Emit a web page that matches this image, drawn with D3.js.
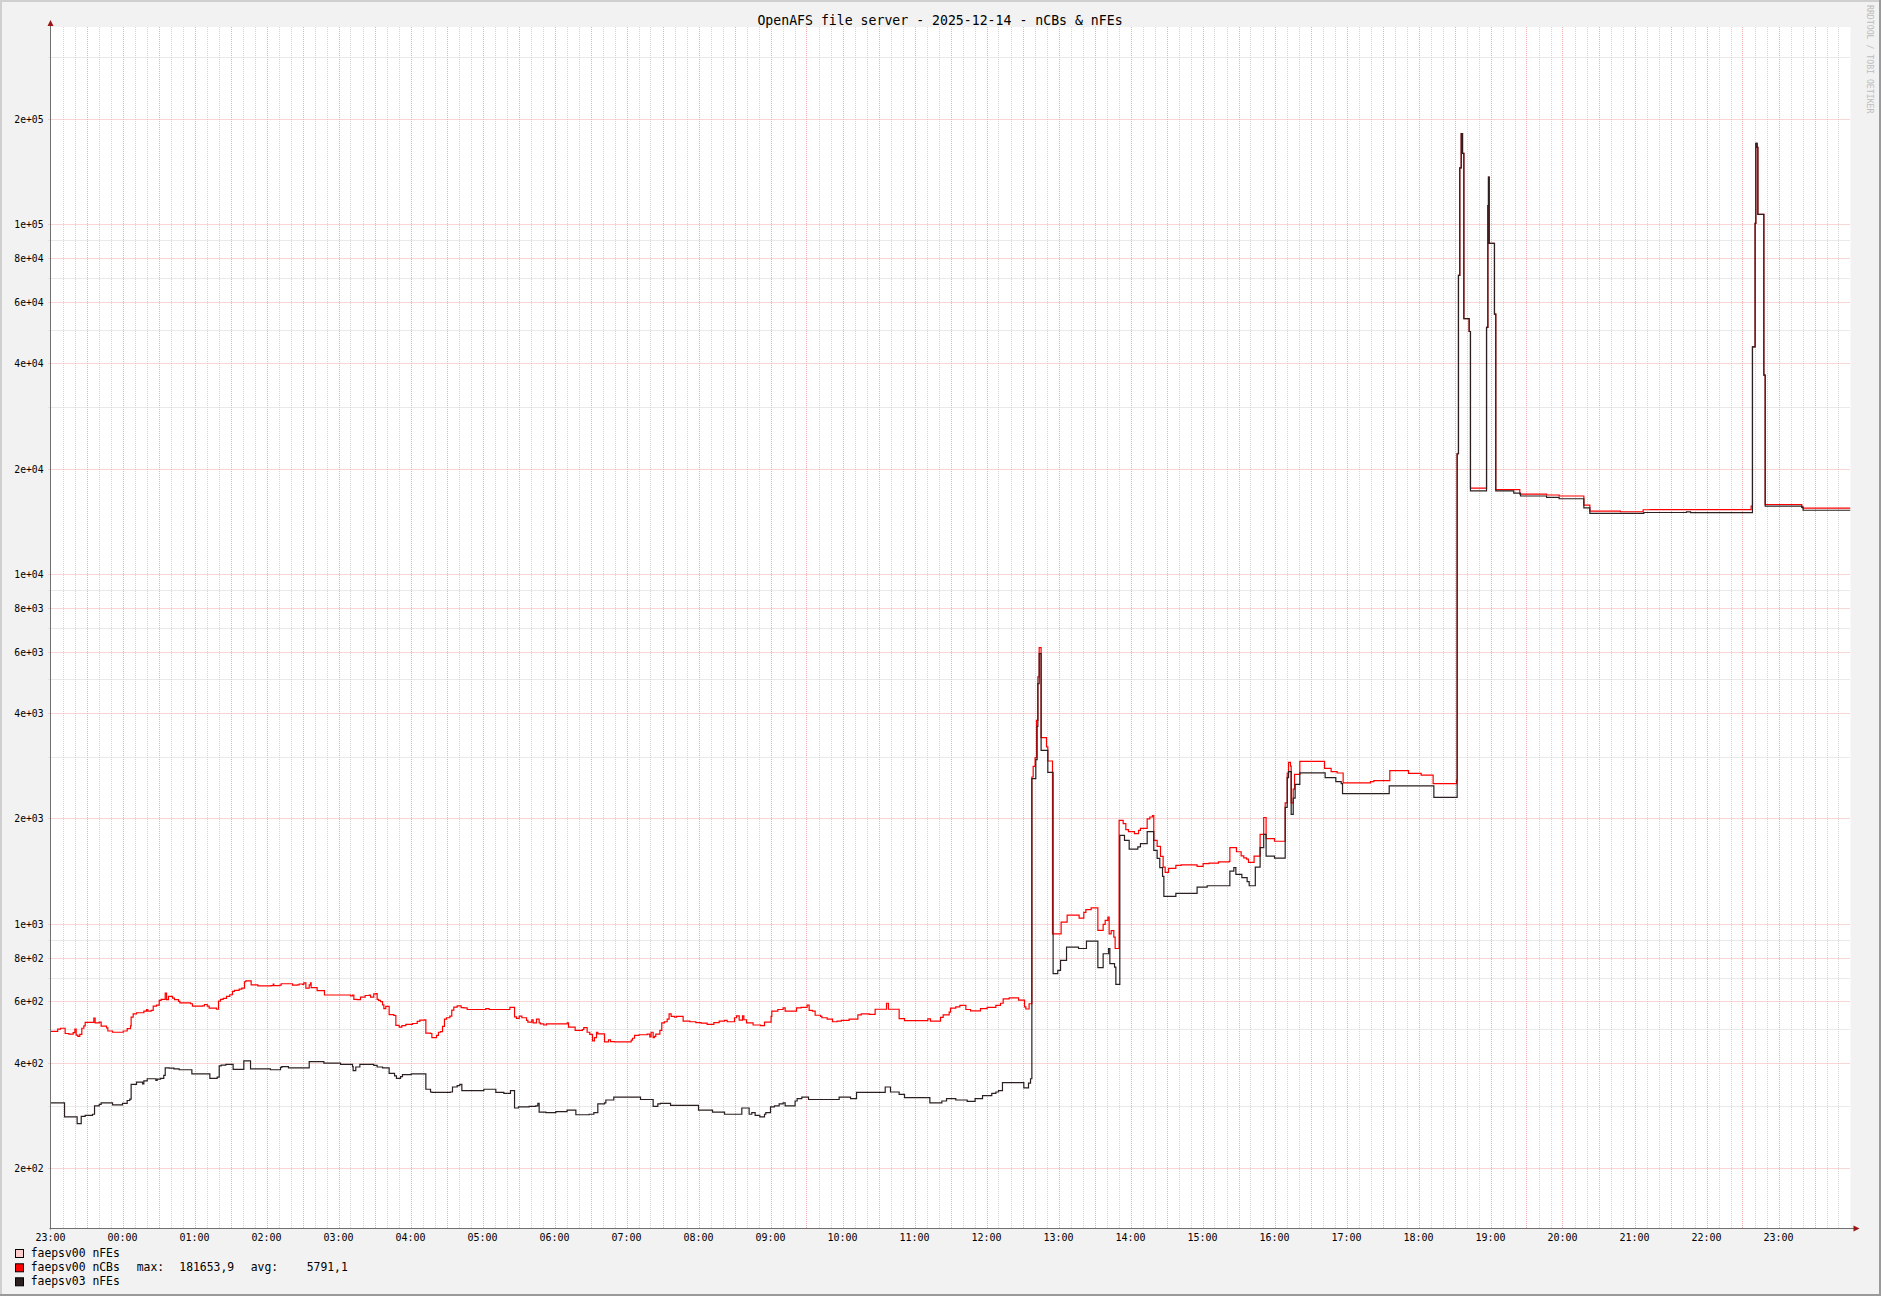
<!DOCTYPE html>
<html><head><meta charset="utf-8">
<script src="https://cdn.jsdelivr.net/npm/d3@7"></script>
<style>html,body{margin:0;padding:0;background:#f2f2f2}svg{display:block}</style>
</head><body>
<svg id="c" width="1881" height="1296"></svg>
<script>
// ---------- data ----------
const title = "OpenAFS file server - 2025-12-14 - nCBs & nFEs";
const hourLabels = ["23:00","00:00","01:00","02:00","03:00","04:00","05:00","06:00","07:00","08:00","09:00","10:00","11:00","12:00","13:00","14:00","15:00","16:00","17:00","18:00","19:00","20:00","21:00","22:00","23:00"];
const yTickValues = [200,400,600,800,1000,2000,4000,6000,8000,10000,20000,40000,60000,80000,100000,200000];
const yTickLabels = ["2e+02","4e+02","6e+02","8e+02","1e+03","2e+03","4e+03","6e+03","8e+03","1e+04","2e+04","4e+04","6e+04","8e+04","1e+05","2e+05"];
const yMinorValues = [300,500,700,900,3000,5000,7000,9000,30000,50000,70000,90000,300000];
const yDomain = [134.3, 366600];
const xDomainMinutes = [0, 1500]; // 23:00 (13th) .. 24:00 (14th)

// faepsv00 nCBs (red) : minutes after 23:00, value
const nCBsT = [0,6,8.3,12.2,15.3,18.9,20.3,21.4,22.8,24.4,26.1,27.8,28.9,36.1,37.2,40.6,42.2,46.7,47.8,51.7,60.6,63.9,66.7,67.2,68.9,71.7,77.8,80,81.1,83.9,85.6,88.3,90.6,92.2,95.6,96.7,98.3,101.7,103.3,106.7,107.8,116.7,118.3,126.7,128.3,130.6,132.2,138.3,140,141.7,143.9,146.7,149.4,151.7,153.3,157.2,159.4,161.7,162.8,167.2,172.8,183.9,185.6,186.1,191.1,192.2,201.7,205.6,207.2,210,211.1,212.8,215.6,216.7,217.2,222.2,228.3,250,251.7,252.8,255.6,258.3,262.2,265.6,266.7,269.4,271.1,272.2,273.3,275,276.7,277.8,279.4,282.2,286.1,287.8,290.6,292.8,296.1,301.7,305.6,307.8,311.7,312.8,316.7,317.8,321.7,323.3,325,326.7,328.3,330,332.8,334.4,336.1,338.9,342.2,344.4,347.2,362.8,365.5,382.8,386.7,388.3,390.6,392.8,396.7,397.8,401.1,402.2,405,407.2,408.3,411.1,413.3,430.6,431.7,437.2,443.3,444.4,447.2,449.4,451.7,453.3,455,456.1,461.7,465,466.7,470,483.9,485,486.7,490.5,497.2,499.4,500.5,502.2,503.3,504.4,507.8,509.4,511.7,513.9,515.5,517.2,520,521.7,527.2,532.8,537.8,542.2,547.2,552.8,557.2,561.7,563.9,570,571.7,573.9,576.7,577.8,580,585.5,591.7,595,600.5,601.1,606.1,610.5,612.2,621.7,625.5,630.5,632.2,635,637.2,641.7,642.8,647.2,651.7,655.5,659,665.5,672.8,675.6,682.2,687.2,696.7,698.3,707.2,711.7,731.1,733.3,741.7,743.9,748.9,750,754.4,757.8,762.8,766.7,775,780.5,787.8,791.7,793.9,798.9,806.7,811.7,812.8,815.5,817.8,818.9,820.5,821.7,822.8,823.9,825.5,830,831.1,835,842.2,847.2,857.2,861.1,862.8,867.2,872.8,877.2,878.9,881.1,882.2,883.9,886.1,887.2,890.5,893.9,896.1,898.3,903.3,906.7,908.3,913.9,916.1,918.3,919.4,922.2,925,927.2,928.9,931.7,937.8,942.2,955.5,960.5,965.5,973.3,982.2,982.8,988.3,992.2,994.4,996.7,998.3,1003,1008,1011,1013,1020,1028.9,1030.6,1031.7,1033.3,1033.9,1035.6,1036.7,1041.1,1061.7,1067.2,1072.2,1077.2,1100,1102.8,1116.1,1131.7,1142.2,1152.2,1171.7,1172.2,1173.3,1174.4,1175.6,1176.7,1177.8,1182.2,1183.3,1196.7,1197.8,1198.3,1198.9,1203.3,1204.4,1224.4,1246.7,1257.2,1277.8,1282.8,1308.3,1327.2,1333.3,1417.2,1418.3,1420.5,1421.1,1422.2,1422.8,1427.8,1428.9,1459.4,1460.5,1500];
const nCBsV = [492,499,502,485,483,488,499,480,476,482,502,510,522,537,520,523,509,503,493,489,493,501,510,540,552,556,562,568,562,565,581,585,603,607,633,606,619,612,606,599,593,590,581,582,587,581,573,569,600,607,611,619,626,640,644,650,654,682,686,668,664,665,671,665,667,673,667,668,672,670,677,654,668,677,656,643,625,621,625,607,606,616,623,625,616,630,631,607,603,598,586,571,580,549,546,512,506,511,515,518,525,530,531,486,485,472,479,489,491,508,533,538,544,566,577,582,575,574,568,571,568,576,541,536,544,538,529,523,531,520,533,520,517,513,517,520,506,495,498,504,489,482,462,472,489,484,459,465,460,459,464,470,479,481,483,474,489,472,476,483,495,520,524,533,552,543,540,543,526,524,521,519,515,521,526,529,524,538,545,530,545,531,520,513,511,523,543,562,568,574,562,574,576,585,565,562,547,543,538,533,524,526,529,533,548,552,550,569,592,569,535,528,534,526,539,548,558,573,578,584,568,563,571,576,584,592,609,613,604,578,570,590,2626,2818,2983,3814,5076,6156,3402,3201,2918,935,1010,1058,1037,1077,1096,1109,956,995,1021,1044,935,955,915,849,1974,1931,1856,1832,1808,1848,1873,1992,2018,2036,1730,1663,1557,1451,1401,1439,1467,1472,1458,1484,1489,1502,1507,1649,1605,1563,1542,1529,1497,1560,1800,2011,1750,1720,2215,2696,2891,2820,2215,2426,2672,2910,2780,2720,2696,2525,2548,2564,2738,2690,2660,2515,2570,22070,71400,144900,181654,159600,53720,49360,17590,50700,113000,136400,88200,55360,17430,16910,16820,16710,15740,15120,15060,15260,15280,15630,44620,100580,170400,165970,106700,37020,15800,15550,15420,15420];

// faepsv03 nFEs (dark)
const nFEs03T = [0,11.7,22.2,25.6,28.9,35,36.7,40.6,42.2,51.7,60,63.9,66.1,67.2,71.7,76.7,77.8,80.6,87.8,88.9,91.7,94.4,95.6,98.9,102.8,107.2,117.8,132.8,138.9,140.6,142.2,146.1,152.2,161.1,166.7,183.3,191.7,192.8,198.3,215.6,227.8,241.7,251.7,252.2,254.4,257.8,269.4,272.2,276.7,282.2,286.7,288.3,291.7,293.3,300.6,312.8,316.7,317.8,333.3,335,338.9,341.1,342.8,361.1,371.1,377.8,383.3,386.7,390,398.9,404.4,406.1,407.2,412.8,421.1,430.5,437.8,448.9,452.8,456.1,461.7,462.8,469.4,491.7,502.2,506.1,508.3,516.7,540,551.7,561.7,576.1,582.2,584.4,587.2,591.1,595,596.1,600,603.3,607.2,610.5,612.2,620.5,622.2,626.1,631.7,657.2,666.7,671.7,695.6,700,707.2,711.7,732.8,742.8,746.7,754.4,763.9,770.5,776.7,784.4,787.8,790,793.3,811.1,815,816.7,817.8,821.1,822.2,822.8,823.9,825.5,831.1,835.5,839.4,841.7,846.7,856.7,863.3,872.8,877.2,881.7,882.8,886.7,887.8,891.1,895,898.9,906.1,908.3,913.9,919.4,922.2,924.4,926.7,927.8,937.8,955.5,963.9,982.8,986.1,987.8,992.8,997.2,998.9,1004,1008,1011,1013,1020,1028.9,1030.6,1031.7,1033.9,1035.6,1037.2,1041.1,1062.2,1071.1,1075.6,1076.7,1115.6,1152.8,1172.2,1173.3,1174.4,1175.6,1176.7,1177.8,1182.2,1183.3,1196.7,1197.8,1198.3,1198.9,1203.3,1204.4,1219.4,1225,1246.7,1257.2,1277.8,1282.8,1327.8,1363.3,1366.7,1418.3,1420.5,1421.1,1422.2,1422.8,1427.8,1428.9,1459.4,1460.5,1500];
const nFEs03V = [307,280,268,281,283,285,301,304,307,303,306,312,315,347,352,348,355,360,356,359,361,368,387,386,384,382,372,361,364,392,394,396,383,405,384,382,388,390,387,403,399,396,390,380,389,396,393,389,387,373,367,361,365,370,372,336,330,329,330,341,344,347,333,336,329,327,333,297,299,300,301,306,289,288,290,293,284,285,288,305,307,313,319,314,300,305,306,302,293,289,285,297,285,288,283,280,285,288,299,301,305,307,301,311,316,319,314,319,316,329,341,330,325,318,307,311,316,313,310,316,322,327,330,333,351,339,350,360,2597,2944,3667,4857,5918,3131,2709,719,735,785,857,849,891,748,820,849,768,751,670,1788,1730,1634,1657,1694,1832,1620,1537,1445,1365,1197,1220,1272,1283,1413,1445,1383,1353,1318,1283,1450,1650,1800,1560,1540,2149,2616,2720,2054,2284,2500,2697,2616,2546,2515,2353,2477,2297,22070,71400,144900,181654,159600,53720,49360,17280,50700,113000,136400,88200,55360,17280,17030,16710,16560,16410,15450,14900,14990,15050,14980,44620,100580,170400,165970,106700,37020,15630,15500,15210,15210];

const legendNames = ["faepsv00 nFEs","faepsv00 nCBs","faepsv03 nFEs"];
const legendStats = ["max:","181653,9","avg:","5791,1"];

// ---------- drawing ----------
const colors = {nFEs00:"#ffcccc", nCBs:"#ff0000", nFEs03:"#2b1f1f"};
const svg = d3.select("#c");
const W = 1881, H = 1296;
const L = 50.5, R = 1850.5, T = 27, B = 1228.5;
const F = "'DejaVu Sans Mono', monospace";

svg.append("rect").attr("width",W).attr("height",H).attr("fill","#f2f2f2");
// shade frame
svg.append("rect").attr("x",0).attr("y",0).attr("width",W).attr("height",2).attr("fill","#cfcfcf");
svg.append("rect").attr("x",0).attr("y",0).attr("width",2).attr("height",H).attr("fill","#cfcfcf");
svg.append("rect").attr("x",0).attr("y",H-2).attr("width",W).attr("height",2).attr("fill","#9a9a9a");
svg.append("rect").attr("x",W-2).attr("y",0).attr("width",2).attr("height",H).attr("fill","#9a9a9a");

svg.append("rect").attr("x",L).attr("y",T).attr("width",R-L).attr("height",B-T).attr("fill","#ffffff");

const x = d3.scaleLinear().domain(xDomainMinutes).range([L, R]);
const y = d3.scaleLog().domain(yDomain).range([B, T]);

const g = svg.append("g");
// vertical grid
const minor10 = d3.range(0, 1501, 10);
g.selectAll(".vg").data(minor10.filter(m => m % 30 !== 0)).join("line")
  .attr("x1", d => Math.round(x(d)) + 0.5).attr("x2", d => Math.round(x(d)) + 0.5)
  .attr("y1", T).attr("y2", B).attr("stroke","#d4d4d4").attr("stroke-dasharray","1,1");
g.selectAll(".vm").data(minor10.filter(m => m % 30 === 0 && m > 0 && m < 1500)).join("line")
  .attr("x1", d => Math.round(x(d)) + 0.5).attr("x2", d => Math.round(x(d)) + 0.5)
  .attr("y1", T).attr("y2", B).attr("stroke","#f0adad").attr("stroke-dasharray","1,1");
// horizontal grid
g.selectAll(".hg").data(yMinorValues).join("line")
  .attr("x1", L-2).attr("x2", R)
  .attr("y1", d => Math.round(y(d)) + 0.5).attr("y2", d => Math.round(y(d)) + 0.5)
  .attr("stroke","#d4d4d4").attr("stroke-dasharray","1,1");
g.selectAll(".hm").data(yTickValues).join("line")
  .attr("x1", L-2).attr("x2", R)
  .attr("y1", d => Math.round(y(d)) + 0.5).attr("y2", d => Math.round(y(d)) + 0.5)
  .attr("stroke","#f0adad").attr("stroke-dasharray","1,1");

// y labels
svg.selectAll(".yl").data(yTickValues).join("text")
  .attr("x", 43.5).attr("y", d => Math.round(y(d)) + 0.5).attr("dy","0.36em")
  .attr("text-anchor","end").attr("font-family",F).attr("font-size","9.7px").attr("fill","#000")
  .text((d,i) => yTickLabels[i]);
// x labels
svg.selectAll(".xl").data(hourLabels).join("text")
  .attr("x", (d,i) => x(i*60)).attr("y", 1240.5)
  .attr("text-anchor","middle").attr("font-family",F).attr("font-size","10px").attr("fill","#000")
  .text(d => d);

// series
const clip = svg.append("clipPath").attr("id","pc").append("rect")
  .attr("x",L).attr("y",T-5).attr("width",R-L).attr("height",B-T+5);
const line = d3.line().x(d => x(d.t)).y(d => y(d.v)).curve(d3.curveStepAfter);
const redData = nCBsT.map((t,i) => ({t, v:nCBsV[i]}));
const blkData = nFEs03T.map((t,i) => ({t, v:nFEs03V[i]}));
svg.append("path").attr("clip-path","url(#pc)").attr("d", line(redData))
  .attr("fill","none").attr("stroke",colors.nCBs).attr("stroke-width",1.2);
svg.append("path").attr("clip-path","url(#pc)").attr("d", line(blkData))
  .attr("fill","none").attr("stroke",colors.nFEs03).attr("stroke-width",1.2);

// axes
svg.append("line").attr("x1",L).attr("x2",L).attr("y1",22).attr("y2",B+1).attr("stroke","#707070").attr("stroke-width",1);
svg.append("line").attr("x1",L-1).attr("x2",1856).attr("y1",B).attr("y2",B).attr("stroke","#707070").attr("stroke-width",1);
svg.append("path").attr("d",`M${L-3},${T-1} L${L+3},${T-1} L${L},${T-7} Z`).attr("fill","#9a1414");
svg.append("path").attr("d",`M${R+3},${B-3} L${R+3},${B+3} L${R+9},${B} Z`).attr("fill","#9a1414");

// title
svg.append("text").attr("x",940).attr("y",24.5).attr("text-anchor","middle").attr("font-family",F).attr("font-size","13.2px").attr("fill","#000").text(title);
// watermark
svg.append("text").attr("transform","translate(1867,5) rotate(90)").attr("font-family",F)
  .attr("font-size","8.2px").attr("fill","#bdbdbd").text("RRDTOOL / TOBI OETIKER");

// legend
const legColors = [colors.nFEs00, colors.nCBs, colors.nFEs03];
const rowY = [1257, 1271.3, 1285.3];
legendNames.forEach((n,i) => {
  svg.append("rect").attr("x",15.5).attr("y",rowY[i]-7.5).attr("width",8).attr("height",8)
    .attr("fill",legColors[i]).attr("stroke","#000").attr("stroke-width",1);
  svg.append("text").attr("x",30.7).attr("y",rowY[i]).attr("font-family",F).attr("font-size","11.4px").attr("fill","#000").text(n);
});
const statX = [136.7, 179.3, 250.7, 306.7];
legendStats.forEach((s,i) => {
  svg.append("text").attr("x",statX[i]).attr("y",rowY[1]).attr("font-family",F).attr("font-size","11.4px").attr("fill","#000").text(s);
});
</script>
</body></html>
